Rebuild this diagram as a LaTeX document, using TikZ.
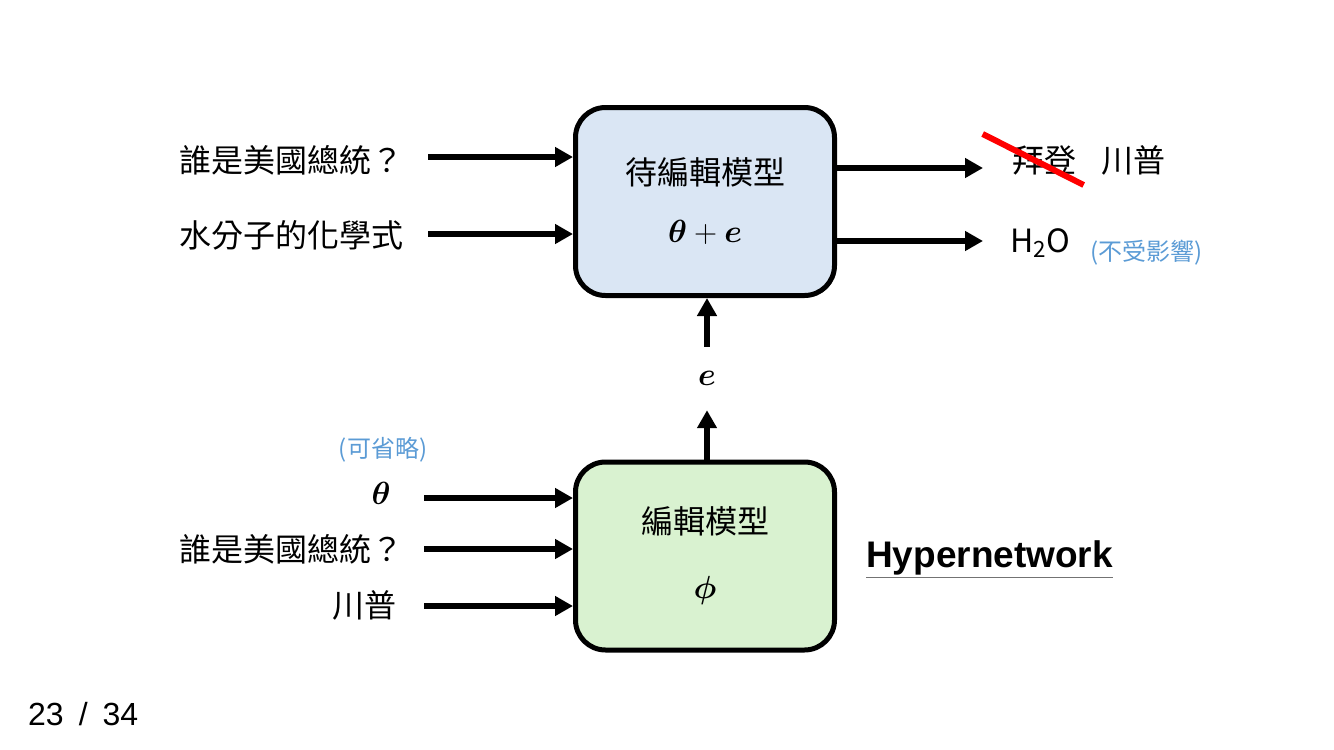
\RequirePackage{fix-cm}
\documentclass[tikz,border=0pt]{standalone}
\usepackage{amsmath}
\usepackage{fontspec}
\setmainfont{Noto Sans CJK TC}
\newfontfamily\hnfont{Liberation Sans}
\usetikzlibrary{arrows.meta,positioning}
\definecolor{editblue}{HTML}{DAE6F4}
\definecolor{hypergreen}{HTML}{D9F2D0}
\definecolor{notecolor}{HTML}{5B9BD5}

\begin{document}
\begin{tikzpicture}[x=1pt,y=-1pt,>={Triangle[length=18pt,width=19pt]},node distance=25pt]
  \tikzstyle{model}=[rectangle,draw=black,line width=5pt,rounded corners=30pt,
        minimum width=259pt,minimum height=188pt,align=center,font=\fontsize{32}{58}\selectfont]
  \tikzstyle{txt}=[inner sep=0pt,font=\fontsize{32}{38}\selectfont]
  \tikzstyle{note}=[inner sep=0pt,text=notecolor,font=\fontsize{24}{28}\selectfont]
  \tikzstyle{flow}=[->,line width=5.5pt]
  \useasboundingbox (0,0) rectangle (1334,750);
  % the two models
  \node [model,fill=editblue] (edited) at (705,201.5) {待編輯模型\\$\boldsymbol{\theta}+\boldsymbol{e}$};
  \node [model,fill=hypergreen] (hyper) at (705,556) {編輯模型\\[7pt]$\boldsymbol{\phi}$};
  % inputs of the edited model
  \node [txt,anchor=east] (q1) at (404,160) {誰是美國總統？};
  \node [txt,anchor=east] (q2) at (404,235) {水分子的化學式};
  \coordinate (q1s) at (428,157);
  \coordinate (q2s) at (428,234);
  \draw [flow] (q1s) -- (q1s -| edited.west);
  \draw [flow] (q2s) -- (q2s -| edited.west);
  % outputs
  \coordinate (o1) at (983,168);
  \coordinate (o2) at (983,241);
  \draw [flow] (o1 -| edited.east) -- (o1);
  \draw [flow] (o2 -| edited.east) -- (o2);
  \node [txt,anchor=west] (biden) at (1012,160) {拜登};
  \node [txt] (trump) [right=25pt of biden] {川普};
  \draw [red,line width=6pt] ([shift={(-61.5,-26)}]biden.center) -- ([shift={(39.5,25)}]biden.center);
  \node [txt,anchor=west] (water) at (1010,243) {H\textsubscript{2}O};
  \node [note,anchor=west] (unaffected) at (1090,253) {(不受影響)};
  % the edit e
  \node [inner sep=0pt,minimum height=63pt,font=\fontsize{32}{38}\selectfont] (e) at (707,378.5) {$\boldsymbol{e}$};
  \draw [flow] (e.north) -- (e.north |- edited.south);
  \draw [flow] (e.south |- hyper.north) -- (e.south);
  % inputs of the hypernetwork
  \node [note] (optional) at (383,450) {(可省略)};
  \node [txt] (theta) at (381,493) {$\boldsymbol{\theta}$};
  \node [txt,anchor=east] (q3) at (404,549) {誰是美國總統？};
  \node [txt,anchor=east] (ans) at (397,605) {川普};
  \coordinate (h1) at (424,498);
  \coordinate (h2) at (424,549);
  \coordinate (h3) at (424,606);
  \draw [flow] (h1) -- (h1 -| hyper.west);
  \draw [flow] (h2) -- (h2 -| hyper.west);
  \draw [flow] (h3) -- (h3 -| hyper.west);
  \node [anchor=west,inner sep=0pt,font=\hnfont\bfseries\fontsize{37}{42}\selectfont] (hn) at (866,558) {Hypernetwork};
  \draw [black!55,line width=1.5pt] ([yshift=-2pt]hn.south west) -- ([yshift=-2pt]hn.south east);
  \node [txt,anchor=west,font=\hnfont\fontsize{32}{34}\selectfont] (page) at (28,714) {23\hspace{15pt}/\hspace{15pt}34};
\end{tikzpicture}
\end{document}
